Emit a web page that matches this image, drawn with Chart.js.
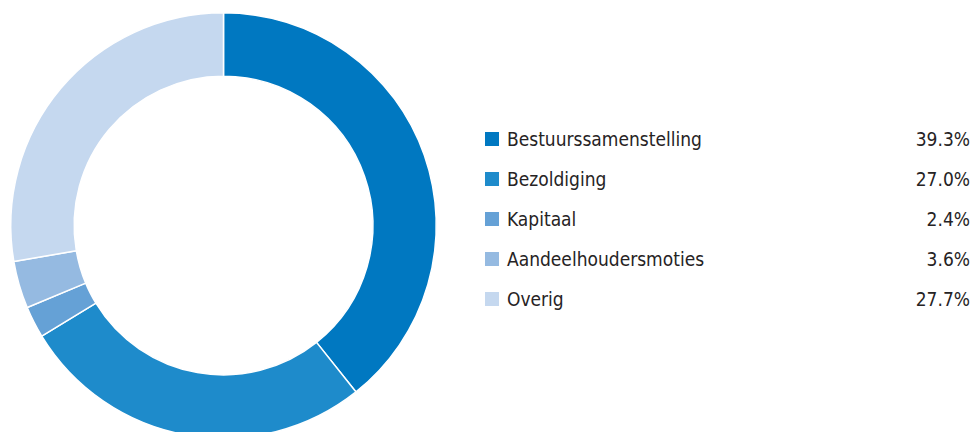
<!DOCTYPE html>
<html>
<head>
<meta charset="utf-8">
<script src="https://cdn.jsdelivr.net/npm/chart.js@4/dist/chart.umd.min.js"></script>
<style>
  html, body { margin: 0; padding: 0; background: #fff; overflow: hidden; width: 972px; height: 432px; }
  #wrap { position: absolute; left: 0; top: 0; width: 447px; height: 451px; }
  #legend { position: absolute; left: 485px; top: 119px; width: 485px; font-family: "Liberation Sans Narrow", "DejaVu Sans Condensed", sans-serif; font-size: 19px; color: #262324; }
  .row { position: relative; height: 40px; line-height: 40px; }
  .box { position: absolute; left: 0; top: 13px; width: 14px; height: 14px; }
  .lbl { position: absolute; left: 22px; top: 0; }
  .pct { position: absolute; right: 0; top: 0; }
</style>
</head>
<body>
<div id="wrap"><canvas id="donut"></canvas></div>
<div id="legend"></div>
<script>
  var categories = ['Bestuurssamenstelling', 'Bezoldiging', 'Kapitaal', 'Aandeelhoudersmoties', 'Overig'];
  var shares = [39.3, 27.0, 2.4, 3.6, 27.7];
  var colors = ['#0078c1', '#1e8bcb', '#65a1d6', '#95bae1', '#c5d8ef'];

  // Legend with percentages on the right
  var legend = document.getElementById('legend');
  categories.forEach(function(name, i) {
    var row = document.createElement('div');
    row.className = 'row';
    row.innerHTML = '<span class="box" style="background:' + colors[i] + '"></span>' +
      '<span class="lbl">' + name + '</span>' +
      '<span class="pct">' + shares[i].toFixed(1) + '%</span>';
    legend.appendChild(row);
  });

  var ctx = document.getElementById('donut').getContext('2d');
  new Chart(ctx, {
    type: 'doughnut',
    data: {
      labels: categories,
      datasets: [{
        data: shares,
        backgroundColor: colors,
        borderColor: '#ffffff',
        borderWidth: 1.5
      }]
    },
    options: {
      responsive: true,
      maintainAspectRatio: false,
      animation: false,
      cutout: '70.2%',
      layout: { padding: { left: 10, right: 10, top: 12, bottom: 12 } },
      plugins: {
        legend: { display: false },
        tooltip: { enabled: false }
      }
    }
  });
</script>
</body>
</html>
